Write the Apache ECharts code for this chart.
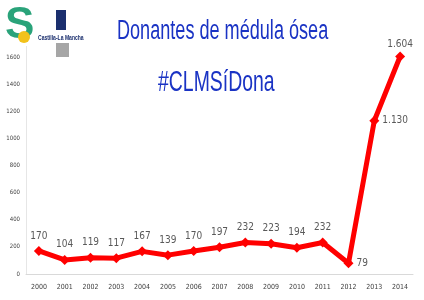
<!DOCTYPE html>
<html><head><meta charset="utf-8">
<script src="https://cdn.jsdelivr.net/npm/echarts@6/dist/echarts.min.js"></script>
<style>html,body{margin:0;padding:0;background:#fff}#c{width:424px;height:300px}</style>
</head><body><div id="c"></div>
<script>
const years = ['2000','2001','2002','2003','2004','2005','2006','2007','2008','2009','2010','2011','2012','2013','2014'];
const donors = [170,104,119,117,167,139,170,197,232,223,194,232,79,1130,1604];
const labelsText = ['170','104','119','117','167','139','170','197','232','223','194','232','79','1.130','1.604'];
const yTicks = [0,200,400,600,800,1000,1200,1400,1600];
const titleText = 'Donantes de médula ósea';
const tagText = '#CLMSíDona';

const chart = echarts.init(document.getElementById('c'));
const data = donors.map((v,i)=>{
  const d = {value:v};
  if (i===12 || i===13) d.label = {position:'right', distance:3};
  if (i===14) d.label = {position:'top', distance:2};
  return d;
});
const blue = '#1a33c4';
chart.setOption({
  animation:false,
  backgroundColor:'#fff',
  grid:{left:26,right:11,top:56.5,bottom:26},
  graphic:[
    {type:'text',x:117,y:32,scaleX:0.67,style:{text:titleText,font:'27px "Liberation Sans"',fill:blue,align:'left',verticalAlign:'middle'}},
    {type:'text',x:158,y:83,scaleX:0.67,style:{text:tagText,font:'29px "Liberation Sans"',fill:blue,align:'left',verticalAlign:'middle'}},
    {type:'text',x:5,y:26,style:{text:'S',font:'bold 44px "Liberation Sans"',fill:'#2aa37a',align:'left',verticalAlign:'middle'}},
    {type:'circle',shape:{cx:24,cy:37,r:6},style:{fill:'#f2c21b'}},
    {type:'rect',shape:{x:56,y:10,width:10,height:20},style:{fill:'#1b2f6e'}},
    {type:'text',x:38,y:38,scaleX:0.72,style:{text:'Castilla-La Mancha',font:'bold 7px "Liberation Sans"',fill:'#1b2f6e',align:'left',verticalAlign:'middle'}},
    {type:'rect',shape:{x:56,y:43,width:13,height:14},style:{fill:'#a6a6a6'}},
    {type:'line',shape:{x1:26.5,y1:46,x2:26.5,y2:57},style:{stroke:'#e6e6e6',lineWidth:1}}
  ],
  xAxis:{type:'category',data:years,boundaryGap:true,
    axisLine:{lineStyle:{color:'#d9d9d9'}},axisTick:{show:false},
    axisLabel:{fontSize:7,color:'#404040',margin:10,fontFamily:'DejaVu Sans Condensed'}},
  yAxis:{type:'value',min:0,max:1604,interval:200,
    axisLine:{show:true,lineStyle:{color:'#e6e6e6'}},axisTick:{show:false},splitLine:{show:false},
    axisLabel:{fontSize:6,color:'#404040',margin:6,fontFamily:'DejaVu Sans Condensed',
      formatter:v=> yTicks.includes(v)? String(v):''}},
  series:[{type:'line',data:data,symbol:'diamond',symbolSize:10,
    lineStyle:{color:'#ff0000',width:5},itemStyle:{color:'#ff0000'},
    label:{show:true,position:'top',distance:5,fontSize:10,color:'#595959',fontFamily:'DejaVu Sans Condensed',
      formatter:p=>labelsText[p.dataIndex]}}]
});
</script></body></html>
